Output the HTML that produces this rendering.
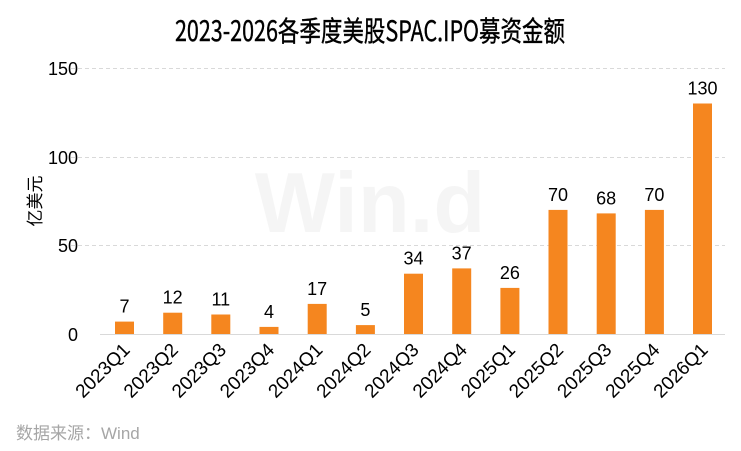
<!DOCTYPE html>
<html><head><meta charset="utf-8"><style>html,body{margin:0;padding:0;background:#fff}svg{display:block}</style></head>
<body>
<svg width="741" height="451" xmlns="http://www.w3.org/2000/svg" font-family="'Liberation Sans','Noto Sans CJK SC',sans-serif">
<text x="370" y="41" font-size="28" text-anchor="middle" textLength="390" lengthAdjust="spacingAndGlyphs" fill="#000" stroke="#000" stroke-width="0.4" font-family="'WenQuanYi Zen Hei','Noto Sans CJK SC',sans-serif">2023-2026各季度美股SPAC.IPO募资金额</text>
<text x="370" y="232" font-size="85" font-weight="bold" fill="#000" fill-opacity="0.04" text-anchor="middle">Win.d</text>
<g stroke="#d9d9d9" stroke-dasharray="4,3" stroke-width="1">
<line x1="71" y1="68.5" x2="725" y2="68.5"/>
<line x1="71" y1="157.5" x2="725" y2="157.5"/>
<line x1="71" y1="245.5" x2="725" y2="245.5"/>
</g>
<line x1="100" y1="334.5" x2="725" y2="334.5" stroke="#d9d9d9"/>
<g font-size="18" fill="#000" text-anchor="end">
<text x="78" y="75">150</text><text x="78" y="164">100</text><text x="78" y="252">50</text><text x="78" y="341">0</text>
</g>
<text transform="translate(41,201) rotate(-90)" font-size="17" text-anchor="middle">亿美元</text>
<g fill="#f5861f">
<rect x="115" y="321.6" width="19" height="12.4"/>
<rect x="163.2" y="312.7" width="19" height="21.3"/>
<rect x="211.3" y="314.5" width="19" height="19.5"/>
<rect x="259.5" y="326.9" width="19" height="7.1"/>
<rect x="307.7" y="303.9" width="19" height="30.1"/>
<rect x="355.9" y="325.1" width="19" height="8.9"/>
<rect x="404" y="273.7" width="19" height="60.3"/>
<rect x="452.2" y="268.4" width="19" height="65.6"/>
<rect x="500.4" y="287.9" width="19" height="46.1"/>
<rect x="548.5" y="209.9" width="19" height="124.1"/>
<rect x="596.7" y="213.4" width="19" height="120.6"/>
<rect x="644.9" y="209.9" width="19" height="124.1"/>
<rect x="693" y="103.5" width="19" height="230.5"/>
</g>
<g font-size="18" text-anchor="middle" fill="#000">
<text x="124.5" y="312.6">7</text>
<text x="172.7" y="303.7">12</text>
<text x="220.8" y="305.5">11</text>
<text x="269" y="317.9">4</text>
<text x="317.2" y="294.9">17</text>
<text x="365.4" y="316.1">5</text>
<text x="413.5" y="264.7">34</text>
<text x="461.7" y="259.4">37</text>
<text x="509.9" y="278.9">26</text>
<text x="558" y="200.9">70</text>
<text x="606.2" y="204.4">68</text>
<text x="654.4" y="200.9">70</text>
<text x="702.5" y="94.5">130</text>
</g>
<g font-size="19" text-anchor="end" fill="#000">
<text transform="translate(131,351) rotate(-45)">2023Q1</text>
<text transform="translate(179.2,351) rotate(-45)">2023Q2</text>
<text transform="translate(227.3,351) rotate(-45)">2023Q3</text>
<text transform="translate(275.5,351) rotate(-45)">2023Q4</text>
<text transform="translate(323.7,351) rotate(-45)">2024Q1</text>
<text transform="translate(371.9,351) rotate(-45)">2024Q2</text>
<text transform="translate(420,351) rotate(-45)">2024Q3</text>
<text transform="translate(468.2,351) rotate(-45)">2024Q4</text>
<text transform="translate(516.4,351) rotate(-45)">2025Q1</text>
<text transform="translate(564.5,351) rotate(-45)">2025Q2</text>
<text transform="translate(612.7,351) rotate(-45)">2025Q3</text>
<text transform="translate(660.9,351) rotate(-45)">2025Q4</text>
<text transform="translate(709,351) rotate(-45)">2026Q1</text>
</g>
<text x="16" y="439" font-size="17" fill="#a6a6a6">数据来源：Wind</text>
</svg>
</body></html>
